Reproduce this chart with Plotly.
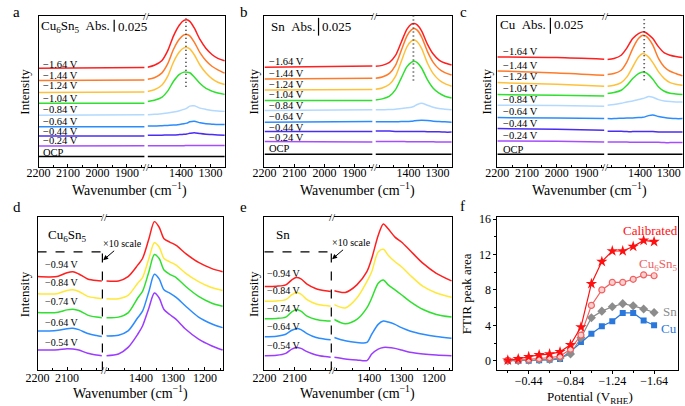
import plotly.graph_objects as go

# ---------------- data ----------------
POT_ABC = ["−1.64 V", "−1.44 V", "−1.24 V", "−1.04 V", "−0.84 V",
           "−0.64 V", "−0.44 V", "−0.24 V", "OCP"]
POT_DE = ["−0.94 V", "−0.84 V", "−0.74 V", "−0.64 V", "−0.54 V"]

# panels a/b/c : wavenumbers (cm-1)
WN_AB_LEFT = [2200, 1840]
WN_C_LEFT = [2200, 2000, 1840]
WN_ABC_RIGHT = [1513, 1490, 1465, 1445, 1425, 1405, 1390, 1380, 1370,
                1355, 1335, 1315, 1295, 1275, 1252]

# intensities (arbitrary units, stacked)
A_LEFT = [[302, 304], [264, 266], [228, 229], [195, 195], [158, 160],
          [123, 123], [95, 95], [64, 65], [32, 32]]
A_RIGHT = [
    [305, 311, 325, 355, 401, 434, 448, 450, 445, 425, 389, 362, 344, 332, 325],
    [268, 273, 287, 315, 360, 391, 404, 405, 401, 382, 349, 325, 308, 297, 287],
    [231, 236, 250, 277, 321, 352, 364, 365, 361, 343, 311, 287, 270, 259, 252],
    [200, 204, 213, 232, 262, 283, 290, 290, 288, 275, 255, 240, 232, 226, 222],
    [160, 161, 163, 165, 168, 172, 176, 180, 186, 187, 180, 176, 173, 171, 170],
    [125, 125, 126, 127, 128, 130, 132, 134, 138, 140, 135, 132, 131, 130, 130],
    [97, 97, 97, 98, 98, 99, 100, 101, 103, 105, 102, 100, 99, 98, 97],
    [65, 65, 65, 65, 65, 65, 65, 66, 66, 66, 66, 66, 66, 66, 66],
    [32, 32, 32, 32, 32, 32, 32, 32, 32, 32, 32, 32, 32, 32, 32],
]
B_LEFT = [[300, 304], [265, 267], [232, 233], [200, 200], [170, 172],
          [135, 137], [107, 107], [77, 75], [38, 38]]
B_RIGHT = [
    [303, 306, 315, 335, 375, 415, 430, 432, 428, 410, 370, 340, 322, 313, 307],
    [267, 271, 282, 305, 350, 395, 413, 417, 412, 392, 348, 315, 295, 284, 277],
    [234, 238, 249, 272, 317, 362, 379, 382, 377, 357, 313, 281, 262, 251, 243],
    [202, 205, 213, 232, 267, 302, 315, 318, 314, 298, 263, 237, 222, 213, 208],
    [172, 172, 173, 174, 176, 178, 180, 183, 188, 192, 186, 180, 176, 174, 172],
    [136, 136, 136, 136, 137, 137, 138, 139, 140, 141, 140, 138, 137, 136, 135],
    [108, 108, 108, 107, 107, 107, 107, 107, 107, 107, 106, 106, 106, 105, 105],
    [77, 77, 77, 77, 77, 76, 76, 76, 76, 76, 76, 76, 75, 75, 75],
    [38, 38, 38, 38, 38, 38, 38, 38, 38, 38, 38, 38, 38, 38, 38],
]
C_LEFT = [[330, 328, 323], [288, 282, 275], [253, 248, 242], [217, 215, 213],
          [185, 184, 182], [148, 147, 145], [115, 113, 110], [78, 77, 75],
          [38, 38, 38]]
C_RIGHT = [
    [322, 325, 335, 357, 385, 400, 405, 403, 397, 385, 360, 342, 335, 331, 328],
    [277, 280, 290, 315, 355, 385, 395, 393, 385, 365, 325, 300, 287, 280, 273],
    [242, 245, 253, 270, 300, 330, 340, 337, 330, 313, 285, 265, 253, 248, 245],
    [220, 223, 230, 245, 265, 280, 285, 283, 277, 263, 240, 227, 221, 219, 217],
    [185, 187, 191, 195, 198, 202, 205, 208, 211, 209, 202, 198, 196, 195, 195],
    [145, 145, 146, 147, 147, 148, 149, 151, 154, 156, 151, 148, 146, 145, 145],
    [107, 107, 107, 106, 106, 106, 106, 106, 106, 106, 105, 105, 105, 105, 105],
    [75, 75, 75, 75, 74, 74, 74, 74, 74, 74, 74, 73, 73, 73, 73],
    [38, 38, 38, 38, 38, 38, 38, 38, 38, 38, 38, 38, 38, 38, 38],
]

# panel d
WN_D_LEFT = [2200, 2160, 2130, 2100, 2080, 2060, 2030, 2000, 1982]
WN_D_RIGHT = [1508, 1470, 1440, 1410, 1395, 1375, 1358, 1343, 1328, 1310,
              1290, 1260, 1220, 1180, 1145]
D_LEFT = [
    [285, 284, 286, 297, 300, 293, 278, 273, 272],
    [233, 232, 234, 243, 245, 240, 225, 220, 218],
    [176, 175, 177, 184, 186, 182, 168, 162, 160],
    [120, 120, 122, 127, 128, 124, 112, 106, 103],
    [62, 62, 63, 66, 65, 62, 52, 47, 45],
]
D_RIGHT = [
    [272, 272, 285, 320, 340, 400, 452, 435, 400, 390, 380, 355, 328, 310, 300],
    [218, 218, 228, 265, 282, 340, 388, 375, 340, 330, 320, 295, 270, 252, 243],
    [160, 162, 175, 220, 240, 300, 352, 340, 305, 292, 282, 255, 225, 205, 195],
    [105, 107, 120, 160, 180, 240, 292, 278, 245, 235, 222, 195, 162, 142, 130],
    [45, 50, 70, 110, 135, 190, 235, 220, 185, 170, 155, 125, 95, 75, 62],
]

# panel e
WN_E_LEFT = [2200, 2160, 2130, 2110, 2095, 2080, 2060, 2030, 2000, 1982]
WN_E_RIGHT = [1508, 1474, 1438, 1407, 1392, 1372, 1356, 1341, 1320, 1300,
              1274, 1233, 1192, 1145]
E_LEFT = [
    [255, 256, 260, 275, 282, 278, 262, 248, 242, 240],
    [210, 211, 215, 230, 237, 232, 215, 202, 197, 195],
    [157, 158, 162, 178, 185, 180, 165, 155, 151, 150],
    [102, 104, 110, 122, 127, 124, 112, 100, 95, 93],
    [45, 46, 52, 65, 70, 67, 57, 47, 42, 40],
]
E_RIGHT = [
    [242, 237, 260, 300, 340, 410, 445, 430, 405, 390, 365, 325, 295, 272],
    [200, 190, 220, 270, 300, 360, 368, 350, 330, 315, 290, 255, 235, 222],
    [155, 142, 155, 190, 220, 265, 275, 260, 245, 230, 210, 185, 170, 162],
    [100, 90, 85, 85, 110, 140, 150, 147, 140, 130, 120, 110, 103, 98],
    [40, 35, 32, 30, 50, 65, 70, 70, 67, 62, 55, 50, 47, 45],
]

# panel f
F_POT = [-0.24, -0.34, -0.44, -0.54, -0.64, -0.74, -0.84, -0.94, -1.04,
         -1.14, -1.24, -1.34, -1.44, -1.54, -1.64]
F_CAL = [0.05, 0.2, 0.45, 0.65, 0.75, 1.0, 1.8, 3.8, 8.7, 11.2, 12.4, 12.4,
         12.9, 13.6, 13.45]
F_CU6SN5 = [0.05, 0.1, 0.15, 0.25, 0.35, 0.5, 1.3, 2.9, 6.25, 8.0, 8.85, 8.85,
            9.2, 9.7, 9.6]
F_SN = [0.0, 0.0, 0.05, 0.1, 0.15, 0.3, 0.75, 2.6, 4.85, 5.6, 6.1, 6.45, 6.2,
        5.85, 5.45]
F_CU = [0.0, 0.0, 0.0, 0.05, 0.1, 0.2, 1.05, 2.1, 3.05, 3.9, 4.45, 5.4, 5.4,
        4.55, 4.0]

# ---------------- styling / layout ----------------
FONT = "Liberation Serif"
W, H = 685, 406
COL_ABC = ['#ff1f1f', '#ff7a29', '#ffc13b', '#2fe02f', '#b3d9ff',
           '#2b8cff', '#4a2cf5', '#a64dff', '#000000']
COL_DE = ['#ff1f1f', '#ffe838', '#2fe02f', '#2b8cff', '#9b3cff']
C_CAL, C_CS, C_SN, C_CU = '#ff1010', '#f06262', '#8c8c8c', '#2a78dc'


def xd(l, r):
    return [l / W, r / W]


def yd(t, b):
    return [1 - b / H, 1 - t / H]


def ax_name(n, a):
    return a if n == 1 else f'{a}{n}'


fig = go.Figure()
layout_axes = {}


def add_line(n, x, y, color, width=1.5):
    fig.add_trace(go.Scatter(
        x=x, y=y, mode='lines',
        line=dict(color=color, width=width, shape='spline', smoothing=0.8),
        xaxis=ax_name(n, 'x'), yaxis=ax_name(n, 'y'), hoverinfo='skip'))


def spec_axes(n, xdom, ydom, xr, yr, side, tv, mv, standoff):
    layout_axes[ax_name(n, 'xaxis')] = dict(
        domain=xdom, range=xr, anchor=ax_name(n, 'y'), showline=True,
        linecolor='black', linewidth=1, mirror=True, ticks='inside',
        ticklen=3, tickcolor='black', tickvals=tv, showgrid=False,
        zeroline=False, tickfont=dict(size=12, family=FONT),
        ticklabelstandoff=standoff,
        minor=dict(tickvals=mv, ticks='inside', ticklen=2,
                   tickcolor='black', showgrid=False))
    layout_axes[ax_name(n, 'yaxis')] = dict(
        domain=ydom, range=yr, anchor=ax_name(n, 'x'), showline=True,
        linecolor='black', linewidth=1, side=side, showticklabels=False,
        ticks='', showgrid=False, zeroline=False)


TOP = yd(11, 164)
BOT = yd(215, 370)
TL_T, TL_M = [2200, 2100, 2000, 1900], [2150, 2050, 1950, 1850]
TR_T, TR_M = [1400, 1300], [1500, 1450, 1350]
BL_T, BL_M = [2200, 2100], [2150, 2050, 2000]
BR_T, BR_M = [1400, 1300, 1200], [1500, 1450, 1350, 1250, 1150]

top_panels = [
    (1, 2, (27, 135, 138, 217), [0, 462], A_LEFT, A_RIGHT, WN_AB_LEFT),
    (3, 4, (257, 367, 370, 448), [0, 455], B_LEFT, B_RIGHT, WN_AB_LEFT),
    (5, 6, (494, 603, 606, 683), [0, 453], C_LEFT, C_RIGHT, WN_C_LEFT),
]
for nl, nr, (l1, r1, l2, r2), yr, left, right, wnl in top_panels:
    spec_axes(nl, xd(l1, r1), TOP, [2200, 1840], yr, 'left', TL_T, TL_M, -5)
    spec_axes(nr, xd(l2, r2), TOP, [1513, 1250], yr, 'right', TR_T, TR_M, -5)
    for i, col in enumerate(COL_ABC):
        add_line(nl, wnl, left[i], col)
        add_line(nr, WN_ABC_RIGHT, right[i], col)

bot_panels = [
    (7, 8, (26, 92, 96, 215), D_LEFT, D_RIGHT, WN_D_LEFT, WN_D_RIGHT),
    (9, 10, (257, 325, 328, 448), E_LEFT, E_RIGHT, WN_E_LEFT, WN_E_RIGHT),
]
for nl, nr, (l1, r1, l2, r2), left, right, wnl, wnr in bot_panels:
    spec_axes(nl, xd(l1, r1), BOT, [2200, 1980], [0, 465], 'left', BL_T, BL_M, -4)
    spec_axes(nr, xd(l2, r2), BOT, [1508, 1143], [0, 465], 'right', BR_T, BR_M, -4)
    for i, col in enumerate(COL_DE):
        add_line(nl, wnl, left[i], col)
        add_line(nr, wnr, right[i], col)

# panel f
f_series = [
    (F_CU, C_CU, dict(symbol='square', size=6, color=C_CU)),
    (F_SN, C_SN, dict(symbol='diamond', size=7, color=C_SN)),
    (F_CU6SN5, C_CS, dict(symbol='circle', size=6, color='#ffd0d0',
                          line=dict(color=C_CS, width=1.2))),
    (F_CAL, C_CAL, dict(symbol='star', size=8.5, color=C_CAL)),
]
for ys, col, mk in f_series:
    fig.add_trace(go.Scatter(x=F_POT, y=ys, mode='lines+markers',
                             line=dict(color=col, width=1.2), marker=mk,
                             xaxis='x11', yaxis='y11', hoverinfo='skip'))
layout_axes['xaxis11'] = dict(
    domain=xd(494, 678), range=[-0.14, -1.87], anchor='y11', showline=True,
    linecolor='black', linewidth=1, mirror=True, ticks='outside', ticklen=3,
    tickcolor='black', tickvals=[-0.44, -0.84, -1.24, -1.64],
    ticktext=['−0.44', '−0.84', '−1.24', '−1.64'], showgrid=False,
    zeroline=False, tickfont=dict(size=12, family=FONT),
    ticklabelstandoff=-4,
    minor=dict(tickvals=[-0.24, -0.64, -1.04, -1.44], ticks='outside',
               ticklen=2, tickcolor='black', showgrid=False))
layout_axes['yaxis11'] = dict(
    domain=BOT, range=[-1.1, 16.2], anchor='x11', showline=True,
    linecolor='black', linewidth=1, mirror=True, ticks='outside', ticklen=3,
    tickcolor='black', tickvals=[0, 4, 8, 12, 16], showgrid=False,
    zeroline=False, tickfont=dict(size=12, family=FONT),
    minor=dict(tickvals=[2, 6, 10, 14], ticks='outside', ticklen=2,
               tickcolor='black', showgrid=False))

# ---------------- annotations ----------------
anns = []


def txt(xp, yp, s, size=12, xanchor='center', yanchor='middle',
        color='black', angle=0):
    anns.append(dict(x=xp / W, y=1 - yp / H, xref='paper', yref='paper',
                     text=s, showarrow=False, textangle=angle,
                     font=dict(family=FONT, size=size, color=color),
                     xanchor=xanchor, yanchor=yanchor))


for s, xp, yp in [('a', 5, 7), ('b', 236, 7), ('c', 460, 7),
                  ('d', 5, 205), ('e', 236, 205), ('f', 459, 204)]:
    txt(xp, yp, s, size=15)
for xp, yp in [(13, 88), (246, 88), (483, 88), (13, 293), (246, 293)]:
    txt(xp, yp, 'Intensity', size=13, angle=-90)
for xp, yp in [(120, 187), (352, 187), (588, 187), (121, 392), (352, 392)]:
    txt(xp, yp, 'Wavenumber (cm<sup>−1</sup>)', size=14)
txt(463, 292, 'FTIR peak area', size=13, angle=-90)
txt(588, 397, 'Potential (V<sub>RHE</sub>)', size=13)

# break markers
for xb in [136.5, 368.5, 604.5]:
    for yb in [11, 164]:
        txt(xb, yb, '//', size=11)
for xb in [94, 326.5]:
    for yb in [215, 370]:
        txt(xb, yb, '//', size=11)

# titles with scale bar
NB = '\u00a0\u00a0'
txt(102, 22, 'Cu<sub>6</sub>Sn<sub>5</sub>' + NB + 'Abs.', size=13, xanchor='right')
txt(106, 22, '0.025', size=13, xanchor='left')
txt(310, 22, 'Sn' + NB + 'Abs.', size=13, xanchor='right')
txt(314, 22, '0.025', size=13, xanchor='left')
txt(546, 20, 'Cu' + NB + 'Abs.', size=13, xanchor='right')
txt(550, 20, '0.025', size=13, xanchor='left')
txt(56, 233, 'Cu<sub>6</sub>Sn<sub>5</sub>', size=13)
txt(276, 232, 'Sn', size=13)

# f series labels
txt(650, 228, 'Calibrated', size=13, color=C_CAL)
txt(658, 263, 'Cu<sub>6</sub>Sn<sub>5</sub>', size=13, color=C_CS)
txt(670, 310, 'Sn', size=13, color=C_SN)
txt(669, 328, 'Cu', size=13, color=C_CU)

# curve labels (positions in each panel's left axis)
LBL = [
    (1, 2191, [313, 280, 248, 210, 175, 140, 110, 80, 45], POT_ABC, 10.5),
    (3, 2190, [318, 280, 248, 218, 185, 152, 120, 90, 55], POT_ABC, 10.5),
    (5, 2188, [347, 303, 270, 235, 202, 165, 130, 95, 53], POT_ABC, 10.5),
    (7, 2180, [322, 268, 210, 147, 85], POT_DE, 10),
    (9, 2197, [295, 242, 188, 132, 75], POT_DE, 10),
]
for n, xv, ys, labels, sz in LBL:
    for yv, s in zip(ys, labels):
        anns.append(dict(x=xv, y=yv, xref=ax_name(n, 'x'), yref=ax_name(n, 'y'),
                         text=s, showarrow=False, xanchor='left',
                         yanchor='middle',
                         font=dict(family=FONT, size=sz, color='black')))

# x10 scale arrows
for n, yv in [(7, 333), (9, 336)]:
    anns.append(dict(x=1, y=yv, xref=f'x{n} domain', yref=f'y{n}',
                     text='×10 scale', showarrow=True, arrowhead=2,
                     arrowsize=1, arrowwidth=1, arrowcolor='black',
                     ax=20, ay=-17, standoff=1,
                     font=dict(family=FONT, size=10, color='black')))

# ---------------- shapes ----------------
shapes = []
for xp, t, b in [(104, 15, 27), (312, 13, 31), (548, 13, 29)]:
    shapes.append(dict(type='line', xref='paper', yref='paper',
                       x0=xp / W, x1=xp / W, y0=1 - b / H, y1=1 - t / H,
                       line=dict(color='black', width=1.2)))
for n, xv, y0, y1 in [(2, 1383, 245, 455), (4, 1383, 260, 460),
                      (6, 1385, 260, 445)]:
    shapes.append(dict(type='line', xref=f'x{n}', yref=f'y{n}', x0=xv, x1=xv,
                       y0=y0, y1=y1,
                       line=dict(color='#333333', width=1.8, dash='1px,3px')))
for n in [7, 9]:
    shapes.append(dict(type='line', xref=f'x{n} domain', yref=f'y{n}',
                       x0=0, x1=1, y0=360, y1=360,
                       line=dict(color='black', width=1.2, dash='dash')))
    shapes.append(dict(type='line', xref=f'x{n} domain', yref=f'y{n}',
                       x0=1, x1=1, y0=0, y1=360,
                       line=dict(color='black', width=1.2, dash='dash')))

fig.update_layout(
    width=W, height=H, margin=dict(l=0, r=0, t=0, b=0),
    paper_bgcolor='white', plot_bgcolor='white', showlegend=False,
    font=dict(family=FONT, size=12, color='black'),
    annotations=anns, shapes=shapes, **layout_axes)

fig.write_html("out.html", config={'displayModeBar': False},
               post_script="document.body.style.margin='0';"
                           "document.body.style.padding='0';"
                           "document.body.style.overflow='hidden';")
